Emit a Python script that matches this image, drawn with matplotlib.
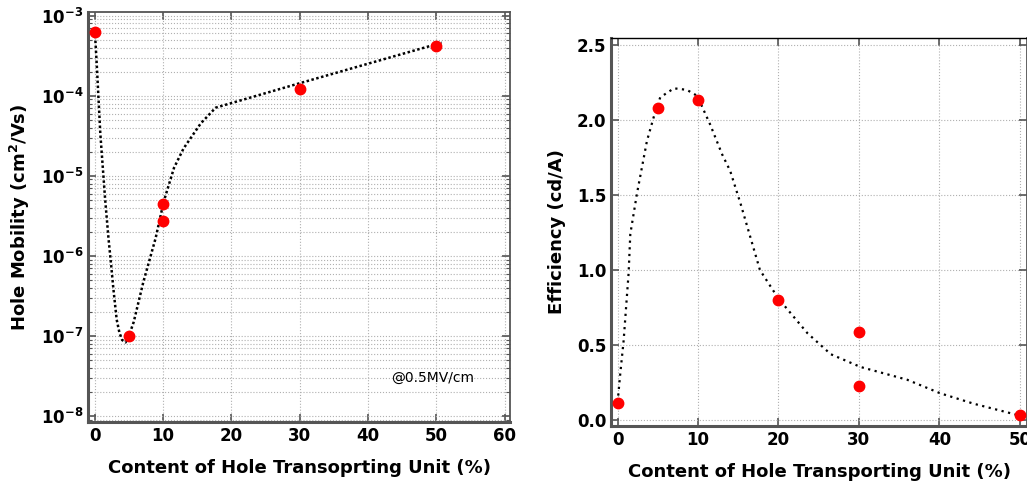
import matplotlib
matplotlib.use("Agg")
import matplotlib.pyplot as plt
from matplotlib.ticker import LogLocator, NullFormatter

# --- left panel: hole mobility ---
mob_x = [0, 5, 10, 10, 30, 50]
mob_y = [6.3e-4, 1.0e-7, 4.5e-6, 2.75e-6, 1.2e-4, 4.2e-4]

mob_fit_x = [0, 0.3, 0.8, 1.5, 2.0, 2.4, 2.7, 3.2, 3.6, 4.0, 4.5, 4.9, 5.7,
             7.1, 8.9, 10.1, 11.6, 13.0, 15.5, 17.7, 30.2, 50.8]
mob_fit_y = [6.5e-4, 2.3e-4, 3.4e-5, 5.2e-6, 1.66e-6, 7.5e-7, 4.0e-7,
             1.6e-7, 1.1e-7, 8.9e-8, 8.3e-8, 9.5e-8, 1.5e-7,
             4.7e-7, 1.66e-6, 4.8e-6, 1.26e-5, 2.2e-5, 4.5e-5, 7.1e-5,
             1.45e-4, 4.6e-4]

# --- right panel: efficiency ---
eff_x = [0, 5, 10, 20, 30, 30, 50]
eff_y = [0.115, 2.08, 2.13, 0.80, 0.585, 0.225, 0.035]

eff_fit_x = [0, 0.33, 0.75, 1.37, 1.58, 2.41, 3.65, 4.5, 5.3, 7.0, 8.6, 9.9,
             11.5, 13.0, 14.0, 15.3, 16.5, 17.7, 20.0, 23.6, 26.5, 30.2,
             36.0, 40.1, 44.3, 50.1]
eff_fit_y = [0.12, 0.31, 0.53, 0.98, 1.24, 1.51, 1.86, 2.02, 2.15, 2.21, 2.20,
             2.16, 1.97, 1.77, 1.66, 1.44, 1.22, 1.0, 0.81, 0.58, 0.44, 0.355,
             0.27, 0.18, 0.11, 0.03]

plt.rcParams['font.family'] = ['DejaVu Sans']
plt.rcParams['mathtext.default'] = 'bf'

fig = plt.figure(figsize=(10.27, 4.82), dpi=100)
ax1 = fig.add_axes([88 / 1027, 1 - 422 / 482, 422 / 1027, 410 / 482])
ax2 = fig.add_axes([611 / 1027, 1 - 426 / 482, 416 / 1027, 388 / 482])

frame = '#555555'
gridc = '#b0b0b0'

# left
ax1.plot(mob_fit_x, mob_fit_y, color='black', linestyle=(0, (1, 1)), lw=1.8, zorder=3)
ax1.plot(mob_x, mob_y, 'o', color='red', ms=7.5, zorder=4)
ax1.set_yscale('log')
ax1.set_xlim(-1, 60.8)
ax1.set_ylim(10 ** -8.075, 10 ** -2.954)
ax1.set_xticks(range(0, 61, 10))
ax1.yaxis.set_major_locator(LogLocator(base=10, numticks=10))
ax1.yaxis.set_minor_locator(LogLocator(base=10, subs=range(2, 10), numticks=10))
ax1.yaxis.set_minor_formatter(NullFormatter())
ax1.grid(True, which='major', color=gridc, linestyle=':', lw=0.8)
ax1.grid(True, which='minor', axis='y', color=gridc, linestyle=':', lw=0.8)
ax1.set_xlabel('Content of Hole Transoprting Unit (%)', fontsize=13,
               fontweight='bold', labelpad=10)
ax1.set_ylabel('Hole Mobility (cm$^2$/Vs)', fontsize=13, fontweight='bold', labelpad=6)
ax1.text(43.4, 3.0e-8, '@0.5MV/cm', fontsize=10, va='center', ha='left')

# right
ax2.plot(eff_fit_x, eff_fit_y, color='black', linestyle=(0, (1, 2)), lw=1.6, zorder=3)
ax2.plot(eff_x, eff_y, 'o', color='red', ms=7.5, zorder=4)
ax2.set_xlim(-0.82, 50.9)
ax2.set_ylim(-0.038, 2.545)
ax2.set_xticks(range(0, 51, 10))
ax2.set_yticks([0.0, 0.5, 1.0, 1.5, 2.0, 2.5])
ax2.set_yticklabels(['0.0', '0.5', '1.0', '1.5', '2.0', '2.5'])
ax2.grid(True, color=gridc, linestyle=':', lw=0.8)
ax2.set_xlabel('Content of Hole Transporting Unit (%)', fontsize=13,
               fontweight='bold', labelpad=10)
ax2.set_ylabel('Efficiency (cd/A)', fontsize=13, fontweight='bold', labelpad=8)

for ax in (ax1, ax2):
    ax.tick_params(which='both', direction='in', top=True, right=True,
                   labelsize=12, color=frame)
    ax.tick_params(which='major', length=6, width=1.2)
    ax.tick_params(which='minor', length=3, width=0.8)
    for lab in ax.get_xticklabels() + ax.get_yticklabels():
        lab.set_fontweight('bold')
    for s in ax.spines.values():
        s.set_color(frame)
        s.set_linewidth(1.3)
    ax.spines['left'].set_linewidth(2.2)
    ax.spines['bottom'].set_linewidth(2.2)
ax2.spines['top'].set_color('black')
ax2.spines['top'].set_linewidth(1.0)

fig.savefig('out.png', dpi=100)
